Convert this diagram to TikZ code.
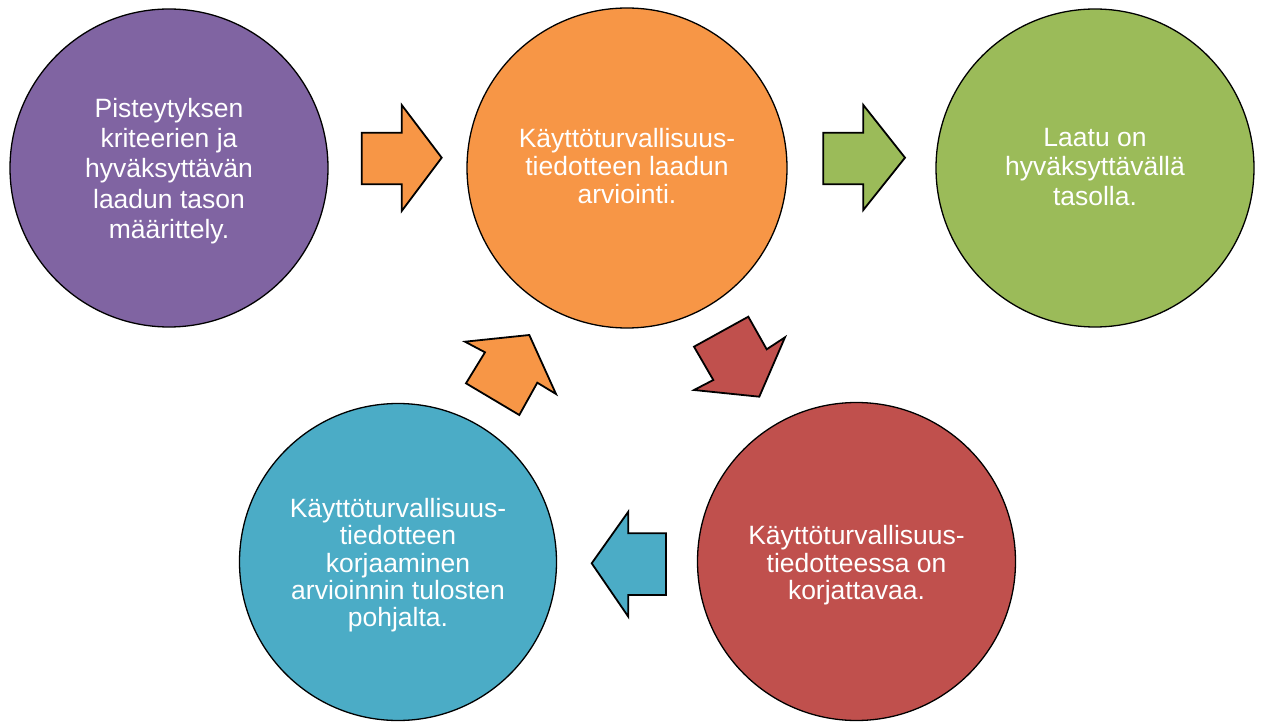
\documentclass[tikz,border=0pt]{standalone}
\usepackage{fontspec}
\setmainfont{Liberation Sans}
\definecolor{cpurple}{HTML}{8064A2}
\definecolor{corange}{HTML}{F79646}
\definecolor{cgreen}{HTML}{9BBB59}
\definecolor{cred}{HTML}{C0504D}
\definecolor{cteal}{HTML}{4BACC6}
\newcommand\tstr[1]{\rule{0pt}{#1pt}}
\newcommand\bstr{\rule[-8pt]{0pt}{8pt}}
\begin{document}
\begin{tikzpicture}[x=1pt,y=-1pt,
  bubble/.style={circle,draw=black,line width=1.3pt,minimum size=318pt,inner sep=0pt,
    text=white,align=center,font=\fontsize{26.5}{#1}\selectfont},
  blockarrow/.style={draw=black,line width=1.8pt,line join=miter}]
\useasboundingbox (0,0) rectangle (1264,722);
\node[bubble=30.3,fill=cpurple] (p) at (169,168) {\tstr{28}Pisteytyksen\\kriteerien ja\\hyväksyttävän\\laadun tason\\määrittely.\bstr};
\node[bubble=28,fill=corange,minimum size=320pt] (o) at (627,168) {\tstr{23}Käyttöturvallisuus-\\tiedotteen laadun\\arviointi.\bstr};
\node[bubble=29.2,fill=cgreen] (g) at (1095,168) {\tstr{24}Laatu on\\hyväksyttävällä\\tasolla.\bstr};
\node[bubble=27.3,fill=cteal,minimum size=317pt] (t) at (398,562) {\tstr{28}Käyttöturvallisuus-\\tiedotteen\\korjaaminen\\arvioinnin tulosten\\pohjalta.\bstr};
\node[bubble=27.5,fill=cred] (r) at (856.5,561.5) {\tstr{29}Käyttöturvallisuus-\\tiedotteessa on\\korjattavaa.\bstr};
% arrows
\draw[blockarrow,fill=corange] (361.7,132.7) -- (401.7,132.7) -- (401.7,105) -- (441.7,157.7) -- (401.7,211) -- (401.7,184.3) -- (361.7,184.3) -- cycle;
\draw[blockarrow,fill=cgreen] (823.3,132.7) -- (863.3,132.7) -- (863.3,105) -- (905,157.7) -- (863.3,210) -- (863.3,184.3) -- (823.3,184.3) -- cycle;
\draw[blockarrow,fill=cteal] (666,533.3) -- (628.3,533.3) -- (628.3,511.7) -- (591.7,563.3) -- (628.3,616.7) -- (628.3,595) -- (666,595) -- cycle;
\draw[blockarrow,fill=cred] (748.3,316.7) -- (694,346.7) -- (713.3,380) -- (694,390) -- (759.3,396.7) -- (785,337.3) -- (766.7,349.3) -- cycle;
\draw[blockarrow,fill=corange] (529.3,335) -- (465,341.7) -- (485,352.3) -- (466,383.3) -- (519.3,415) -- (537.3,382.7) -- (556,394) -- cycle;
\end{tikzpicture}
\end{document}
